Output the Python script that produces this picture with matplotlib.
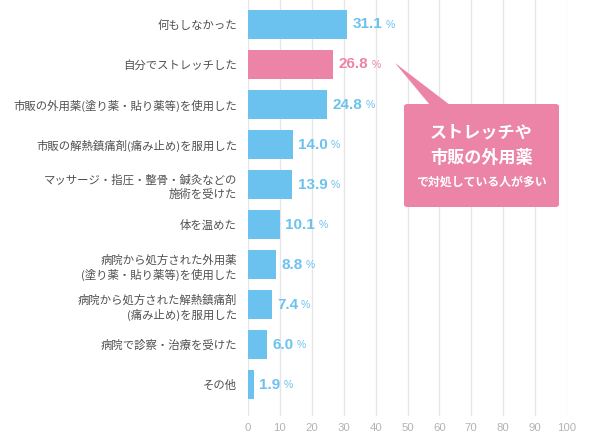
import matplotlib
matplotlib.use("Agg")
import matplotlib.pyplot as plt
from matplotlib.patches import FancyBboxPatch, Polygon

plt.rcParams['font.family'] = ['Noto Sans CJK JP', 'DejaVu Sans']

categories = [
    "何もしなかった",
    "自分でストレッチした",
    "市販の外用薬(塗り薬・貼り薬等)を使用した",
    "市販の解熱鎮痛剤(痛み止め)を服用した",
    "マッサージ・指圧・整骨・鍼灸などの\n施術を受けた",
    "体を温めた",
    "病院から処方された外用薬\n(塗り薬・貼り薬等)を使用した",
    "病院から処方された解熱鎮痛剤\n(痛み止め)を服用した",
    "病院で診察・治療を受けた",
    "その他",
]
values = [31.1, 26.8, 24.8, 14.0, 13.9, 10.1, 8.8, 7.4, 6.0, 1.9]
highlight = [False, True, False, False, False, False, False, False, False, False]
xticks = [0, 10, 20, 30, 40, 50, 60, 70, 80, 90, 100]
callout_lines = ["ストレッチや", "市販の外用薬", "で対処している人が多い"]

BLUE = "#6cc2ee"
PINK = "#ec84a7"

W, H = 590, 438
fig = plt.figure(figsize=(W / 100, H / 100), dpi=100)
ax_left, ax_right, ax_top, ax_bot = 248, 567, 0, 416
ax = fig.add_axes([ax_left / W, 1 - ax_bot / H, (ax_right - ax_left) / W, (ax_bot - ax_top) / H])

ypos = list(range(len(categories)))
colors = [PINK if h else BLUE for h in highlight]
ax.barh(ypos, values, height=0.72, color=colors, zorder=2)
ax.set_xlim(0, 100)
ax.set_ylim(9.78, -0.61)
ax.set_xticks(xticks)
ax.set_xticklabels([str(t) for t in xticks], color="#b3b3b3", fontsize=8.2,
                   family=['Liberation Sans', 'DejaVu Sans'])
ax.set_yticks(ypos)
ax.set_yticklabels(categories, color="#505050", fontsize=8.2, linespacing=1.35)
ax.tick_params(axis='x', length=0, pad=5)
ax.tick_params(axis='y', length=0, pad=8)
for s in ax.spines.values():
    s.set_visible(False)
ax.grid(axis='x', color="#e6e6e6", linewidth=1, zorder=0)
ax.set_axisbelow(True)

for y, v, c in zip(ypos, values, colors):
    t = ax.annotate(f"{v:.1f}", xy=(v, y), xytext=(3.8, 0), textcoords='offset points',
                    ha='left', va='center', color=c, fontsize=11, fontweight='bold',
                    family=['Liberation Sans', 'DejaVu Sans'])
    ax.annotate("%", xy=(1, 0.1), xycoords=t, xytext=(2.2, 0), textcoords='offset points',
                ha='left', va='bottom', color=c, fontsize=7.5,
                family=['Liberation Sans', 'DejaVu Sans'])

# callout (in figure pixel coordinates)
def fx(px):
    return px / W

def fy(py):
    return 1 - py / H

bx0, bx1, by0, by1 = 404, 559, 104, 207
box = FancyBboxPatch((fx(bx0), fy(by1)), fx(bx1) - fx(bx0), fy(by0) - fy(by1),
                     boxstyle="round,pad=0,rounding_size=0.006",
                     transform=fig.transFigure, facecolor=PINK, edgecolor='none', zorder=5)
fig.patches.append(box)
tri = Polygon([(fx(395), fy(63)), (fx(430), fy(105)), (fx(450), fy(105))],
              closed=True, transform=fig.transFigure, facecolor=PINK, edgecolor='none', zorder=5)
fig.patches.append(tri)
cx = fx((bx0 + bx1) / 2)
fig.text(cx, fy(132), callout_lines[0], ha='center', va='center', color='white',
         fontsize=12.3, fontweight='bold', zorder=6)
fig.text(cx, fy(158), callout_lines[1], ha='center', va='center', color='white',
         fontsize=12.3, fontweight='bold', zorder=6)
fig.text(cx, fy(182), callout_lines[2], ha='center', va='center', color='white',
         fontsize=8.6, fontweight='bold', zorder=6)

fig.savefig("out.png", dpi=100)
